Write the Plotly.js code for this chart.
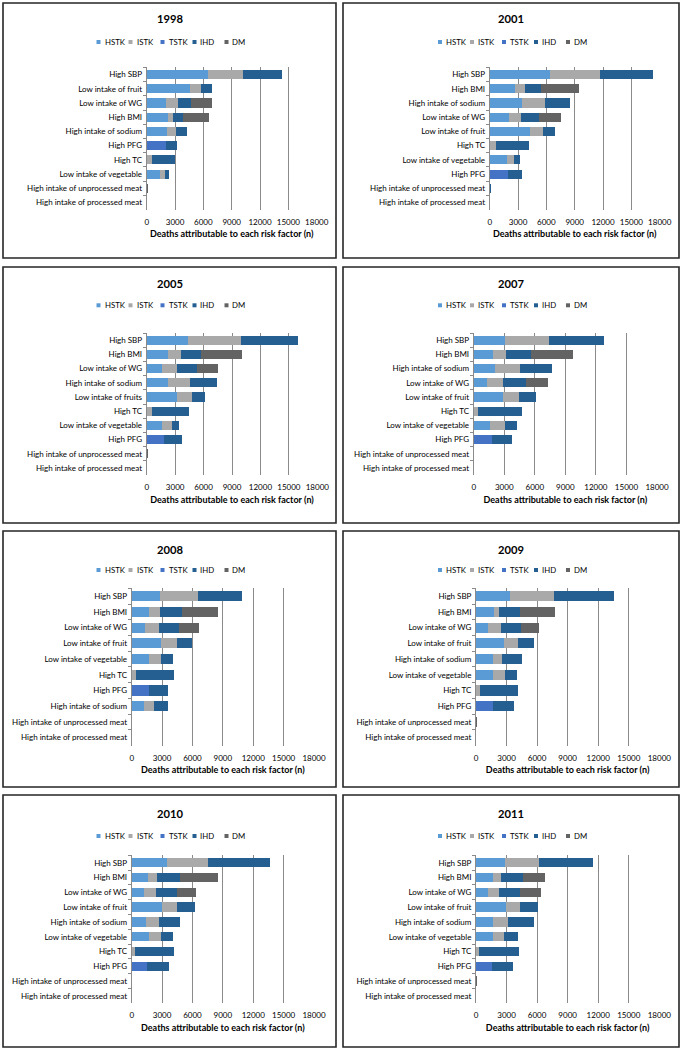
<!DOCTYPE html>
<html><head><meta charset="utf-8">
<script src="https://cdn.plot.ly/plotly-3.0.1.min.js"></script>
<style>html,body{margin:0;padding:0;background:#fff}#chart{width:684px;height:1049px}</style>
</head><body><div id="chart"></div>
<script>
const seriesNames = ['HSTK','ISTK','TSTK','IHD','DM'];
const seriesColors = ['#5b9bd5','#a9a9a9','#4472c4','#255e91','#636363'];
const xTickVals = [0,3000,6000,9000,12000,15000,18000];
const xTickText = ['0','3000','6000','9000','12000','15000','18000'];
const xAxisTitle = 'Deaths attributable to each risk factor (n)';

// 1998
const cats1998 = ['High SBP','Low intake of fruit','Low intake of WG','High BMI','High intake of sodium','High PFG','High TC','Low intake of vegetable','High intake of unprocessed meat','High intake of processed meat'];
const HSTK1998 = [6500,4590,2050,2220,2120,0,0,1410,0,0];
const ISTK1998 = [3700,1130,1300,600,980,0,560,490,0,0];
const TSTK1998 = [0,0,0,0,0,2010,0,0,0,0];
const IHD1998  = [4160,1160,1340,1060,1200,1170,2400,430,80,0];
const DM1998   = [0,0,2190,2760,0,0,0,0,70,0];
// 2001
const cats2001 = ['High SBP','High BMI','High intake of sodium','Low intake of WG','Low intake of fruit','High TC','Low intake of vegetable','High PFG','High intake of unprocessed meat','High intake of processed meat'];
const HSTK2001 = [6420,2650,3420,2010,4240,0,1800,0,0,0];
const ISTK2001 = [5230,1060,2400,1340,1370,670,780,0,0,0];
const TSTK2001 = [0,0,0,0,0,0,0,1940,0,0];
const IHD2001  = [5610,1730,2680,1840,1340,3460,670,1480,90,0];
const DM2001   = [0,3980,0,2400,0,0,0,0,80,0];
// 2005
const cats2005 = ['High SBP','High BMI','Low intake of WG','High intake of sodium','Low intake of fruits','High TC','Low intake of vegetable','High PFG','High intake of unprocessed meat','High intake of processed meat'];
const HSTK2005 = [4400,2290,1580,2290,3230,0,1580,0,0,0];
const ISTK2005 = [5520,1300,1650,2310,1520,600,1060,0,0,0];
const TSTK2005 = [0,0,0,0,0,0,0,1860,0,0];
const IHD2005  = [6080,2140,2040,2780,1440,3830,810,1830,60,0];
const DM2005   = [0,4290,2290,0,0,0,0,0,50,0];
// 2007
const cats2007 = ['High SBP','High BMI','High intake of sodium','Low intake of WG','Low intake of fruit','High TC','Low intake of vegetable','High PFG','High intake of unprocessed meat','High intake of processed meat'];
const HSTK2007 = [3110,1900,2130,1310,2880,0,1640,0,0,0];
const ISTK2007 = [4320,1270,2390,1600,1540,460,1440,0,0,0];
const TSTK2007 = [0,0,0,0,0,0,0,1770,0,0];
const IHD2007  = [5330,2430,3170,2230,1700,4320,1210,2030,40,0];
const DM2007   = [0,4120,0,2120,0,0,0,0,30,0];
// 2008
const cats2008 = ['High SBP','High BMI','Low intake of WG','Low intake of fruit','Low intake of vegetable','High TC','High PFG','High intake of sodium','High intake of unprocessed meat','High intake of processed meat'];
const HSTK2008 = [2800,1710,1280,2880,1700,0,0,1180,0,0];
const ISTK2008 = [3720,1090,1390,1560,1200,390,0,1010,0,0];
const TSTK2008 = [0,0,0,0,0,0,1710,0,0,0];
const IHD2008  = [4370,2140,2000,1540,1150,3810,1920,1410,40,0];
const DM2008   = [0,3550,1940,0,0,0,0,0,30,0];
// 2009
const cats2009 = ['High SBP','High BMI','Low intake of WG','Low intake of fruit','High intake of sodium','Low intake of vegetable','High TC','High PFG','High intake of unprocessed meat','High intake of processed meat'];
const HSTK2009 = [3370,1730,1180,2780,1640,1670,0,0,0,0];
const ISTK2009 = [4320,500,1240,1310,910,1180,360,0,0,0];
const TSTK2009 = [0,0,0,0,0,0,0,1670,0,0];
const IHD2009  = [5890,2120,2000,1600,2000,1140,3730,2030,40,0];
const DM2009   = [0,3370,1800,0,0,0,0,0,30,0];
// 2010
const cats2010 = ['High SBP','High BMI','Low intake of WG','Low intake of fruit','High intake of sodium','Low intake of vegetable','High TC','High PFG','High intake of unprocessed meat','High intake of processed meat'];
const HSTK2010 = [3520,1610,1220,2990,1380,1710,0,0,0,0];
const ISTK2010 = [4050,920,1180,1450,1320,1150,300,0,0,0];
const TSTK2010 = [0,0,0,0,0,0,0,1510,0,0];
const IHD2010  = [6090,2270,2040,1780,2040,1250,3850,2140,30,0];
const DM2010   = [0,3690,1910,0,0,0,0,0,20,0];
// 2011
const cats2011 = ['High SBP','High BMI','Low intake of WG','Low intake of fruit','High intake of sodium','Low intake of vegetable','High TC','High PFG','High intake of unprocessed meat','High intake of processed meat'];
const HSTK2011 = [2880,1640,1180,2910,1700,1640,0,0,0,0];
const ISTK2011 = [3270,780,1110,1380,1470,1140,260,0,0,0];
const TSTK2011 = [0,0,0,0,0,0,0,1570,0,0];
const IHD2011  = [5300,2190,2030,1830,2490,1310,3960,2090,30,0];
const DM2011   = [0,2160,2030,0,0,0,0,0,20,0];

const panels = [
  {year:'1998', cats:cats1998, vals:[HSTK1998,ISTK1998,TSTK1998,IHD1998,DM1998]},
  {year:'2001', cats:cats2001, vals:[HSTK2001,ISTK2001,TSTK2001,IHD2001,DM2001]},
  {year:'2005', cats:cats2005, vals:[HSTK2005,ISTK2005,TSTK2005,IHD2005,DM2005]},
  {year:'2007', cats:cats2007, vals:[HSTK2007,ISTK2007,TSTK2007,IHD2007,DM2007]},
  {year:'2008', cats:cats2008, vals:[HSTK2008,ISTK2008,TSTK2008,IHD2008,DM2008]},
  {year:'2009', cats:cats2009, vals:[HSTK2009,ISTK2009,TSTK2009,IHD2009,DM2009]},
  {year:'2010', cats:cats2010, vals:[HSTK2010,ISTK2010,TSTK2010,IHD2010,DM2010]},
  {year:'2011', cats:cats2011, vals:[HSTK2011,ISTK2011,TSTK2011,IHD2011,DM2011]}
];

// layout geometry (pixels)
const W = 684, H = 1049;
const boxX = [[3,336],[343,679]];
const boxY = [[3,258],[267,523],[531,787],[795,1047]];
const rowPlot = [[67.4,209.6,18,42],[333.1,475.1,283,305.3],[588.4,745.5,549.3,570],[855.3,1003.4,813.3,836]];
const plotX = [[146.7,316.7],[489.7,659.7],[146.7,317.3],[473.7,657],[131.7,314],[476,659.3],[131.7,314],[476,659.3]];

const FAM = 'Lato';
const FONT = 'Lato, "Open Sans", sans-serif';
const TXT = '#000000';
const px = v => v / W;
const py = v => 1 - v / H;

// fit font sizes to the text widths seen in the reference
const ctx = document.createElement('canvas').getContext('2d');
function fitSize(text, targetW, bold) {
  ctx.font = (bold ? 'bold ' : '') + '100px ' + FAM;
  const w = ctx.measureText(text).width;
  return Math.round(100 * targetW / w * 10) / 10;
}
const ySize = fitSize('High intake of unprocessed meat', 115, false);
const xTickSize = fitSize('18000', 23.3, false);
const xTitleSize = fitSize(xAxisTitle, 164, true);
const legSize = fitSize('HSTK', 20, false);
const titleSize = fitSize('1998', 26, true);

const data = [];
const layout = {
  width: W, height: H,
  margin: {l:0, r:0, t:0, b:0},
  paper_bgcolor: '#ffffff', plot_bgcolor: '#ffffff',
  barmode: 'stack', bargap: 0.36,
  showlegend: false,
  font: {family: FONT, color: TXT, size: 8},
  shapes: [], annotations: []
};

panels.forEach((p, i) => {
  const n = i + 1;
  const xa = n === 1 ? 'x' : 'x' + n;
  const ya = n === 1 ? 'y' : 'y' + n;
  const col = i % 2, row = Math.floor(i / 2);
  const [x0, x1] = plotX[i];
  const [yt, yb, titleY, legY] = rowPlot[row];
  const [bl, br] = boxX[col];
  const [bt, bb] = boxY[row];
  const cx = (bl + br) / 2;

  seriesNames.forEach((s, k) => {
    data.push({
      type: 'bar', orientation: 'h', name: s,
      x: p.vals[k], y: p.cats,
      xaxis: xa, yaxis: ya,
      marker: {color: seriesColors[k], line: {width: 0}},
      hoverinfo: 'skip', showlegend: false
    });
  });

  layout[n === 1 ? 'xaxis' : 'xaxis' + n] = {
    domain: [px(x0), px(x1)], anchor: ya,
    range: [0, 18000], tickvals: xTickVals, ticktext: xTickText,
    showgrid: true, gridcolor: '#8a8a8a', gridwidth: 1,
    zeroline: false, showline: false, ticks: '',
    tickfont: {family: FONT, size: xTickSize, color: TXT},
    ticklabelstandoff: 6,
    fixedrange: true,
    title: {text: '<b>' + xAxisTitle + '</b>', font: {family: FONT, size: xTitleSize, color: TXT}, standoff: 5}
  };
  layout[n === 1 ? 'yaxis' : 'yaxis' + n] = {
    domain: [py(yb), py(yt)], anchor: xa,
    type: 'category', categoryorder: 'array', categoryarray: p.cats,
    range: [9.5, -0.5],
    showgrid: false, zeroline: false,
    showline: true, linecolor: '#8a8a8a', linewidth: 1,
    ticks: 'outside', ticklen: 3, tickcolor: '#8a8a8a', tickson: 'boundaries',
    tickfont: {family: FONT, size: ySize, color: TXT},
    ticklabelstandoff: 2,
    fixedrange: true
  };

  // panel border
  layout.shapes.push({type: 'rect', xref: 'paper', yref: 'paper',
    x0: px(bl), x1: px(br), y0: py(bb), y1: py(bt),
    line: {color: '#262626', width: 1.6}, fillcolor: 'rgba(0,0,0,0)'});

  // title
  layout.annotations.push({xref: 'paper', yref: 'paper', x: px(cx), y: py(titleY),
    xanchor: 'center', yanchor: 'middle', showarrow: false,
    text: '<b>' + p.year + '</b>', font: {family: FONT, size: titleSize, color: TXT}});

  // legend (drawn as small squares + text)
  seriesNames.forEach((s, k) => {
    const sx = cx - 73 + 32 * k;
    layout.shapes.push({type: 'rect', xref: 'paper', yref: 'paper',
      x0: px(sx), x1: px(sx + 4), y0: py(legY + 2), y1: py(legY - 2),
      line: {width: 0}, fillcolor: seriesColors[k]});
    layout.annotations.push({xref: 'paper', yref: 'paper', x: px(sx + 6), y: py(legY),
      xanchor: 'left', yanchor: 'middle', showarrow: false,
      text: s, font: {family: FONT, size: legSize, color: TXT}});
  });
});

Plotly.newPlot('chart', data, layout, {staticPlot: true, displayModeBar: false});
</script>
</body></html>
